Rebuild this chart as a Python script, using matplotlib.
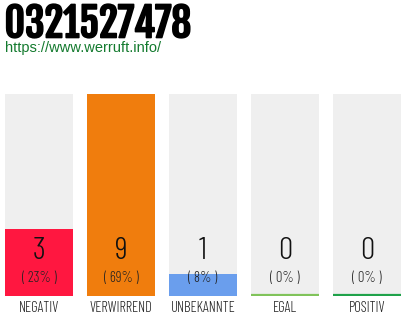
import matplotlib
matplotlib.use("Agg")
import matplotlib.pyplot as plt
import matplotlib.transforms as mtransforms
import matplotlib.patheffects as pe
from matplotlib import font_manager

# data
categories = ["NEGATIV", "VERWIRREND", "UNBEKANNTE", "EGAL", "POSITIV"]
counts = [3, 9, 1, 0, 0]
percents = ["( 23% )", "( 69% )", "( 8% )", "( 0% )", "( 0% )"]
colors = ["#ff1740", "#f07d0d", "#6a9eed", "#80c35a", "#1fa24a"]
title = "0321527478"
url = "https://www.werruft.info/"

installed = {f.name for f in font_manager.fontManager.ttflist}


def pick(*names):
    for n in names:
        if n in installed:
            return n
    return "DejaVu Sans"


head_font = pick("Fjalla One", "Anton", "Oswald")
thin_font = pick("Barlow Condensed", "Yanone Kaffeesatz", "Oswald")
url_font = pick("Liberation Sans", "Arial")

W, H = 410, 320
fig = plt.figure(figsize=(W / 100, H / 100), dpi=100)

# bars area in pixels: x 5..401, y 94..296 (from top)
ax = fig.add_axes([5 / W, 1 - 296 / H, 396 / W, 202 / H])
xs = list(range(len(categories)))
bw = 68 / 82
top = max(counts)

ax.bar(xs, [top] * len(xs), width=bw, color="#efefef", zorder=1)
ax.bar(xs, counts, width=bw, color=colors, zorder=2)
for x, c, col in zip(xs, counts, colors):
    if c == 0:
        ax.plot([x - bw / 2, x + bw / 2], [top * 0.004] * 2, color=col, lw=1.6,
                solid_capstyle="butt", zorder=3)

ax.set_xlim(-bw / 2, len(xs) - 1 + bw / 2)
ax.set_ylim(0, top)
ax.axis("off")

# texts: x in data, y in figure fraction
tr = mtransforms.blended_transform_factory(ax.transData, fig.transFigure)
for x, c, p, lab in zip(xs, counts, percents, categories):
    ax.text(x, 1 - 251 / H, str(c), transform=tr, ha="center", va="center",
            fontsize=23, family=thin_font, fontweight=300, color="#111111")
    ax.text(x, 1 - 278 / H, p, transform=tr, ha="center", va="center",
            fontsize=10.5, family=thin_font, fontweight=300, color="#222222")
    ax.text(x, 1 - 308 / H, lab, transform=tr, ha="center", va="center",
            fontsize=10.5, family=thin_font, fontweight=300, color="#222222")

fig.text(4.5 / W, 1 - 37.5 / H, title, ha="left", va="baseline", fontsize=28.5,
         family=head_font, color="#000000",
         path_effects=[pe.withStroke(linewidth=1.2, foreground="#000000")])
fig.text(5 / W, 1 - 52 / H, url, ha="left", va="baseline", fontsize=10.5,
         family=url_font, color="#137a2e")

fig.savefig("out.png", dpi=100)
